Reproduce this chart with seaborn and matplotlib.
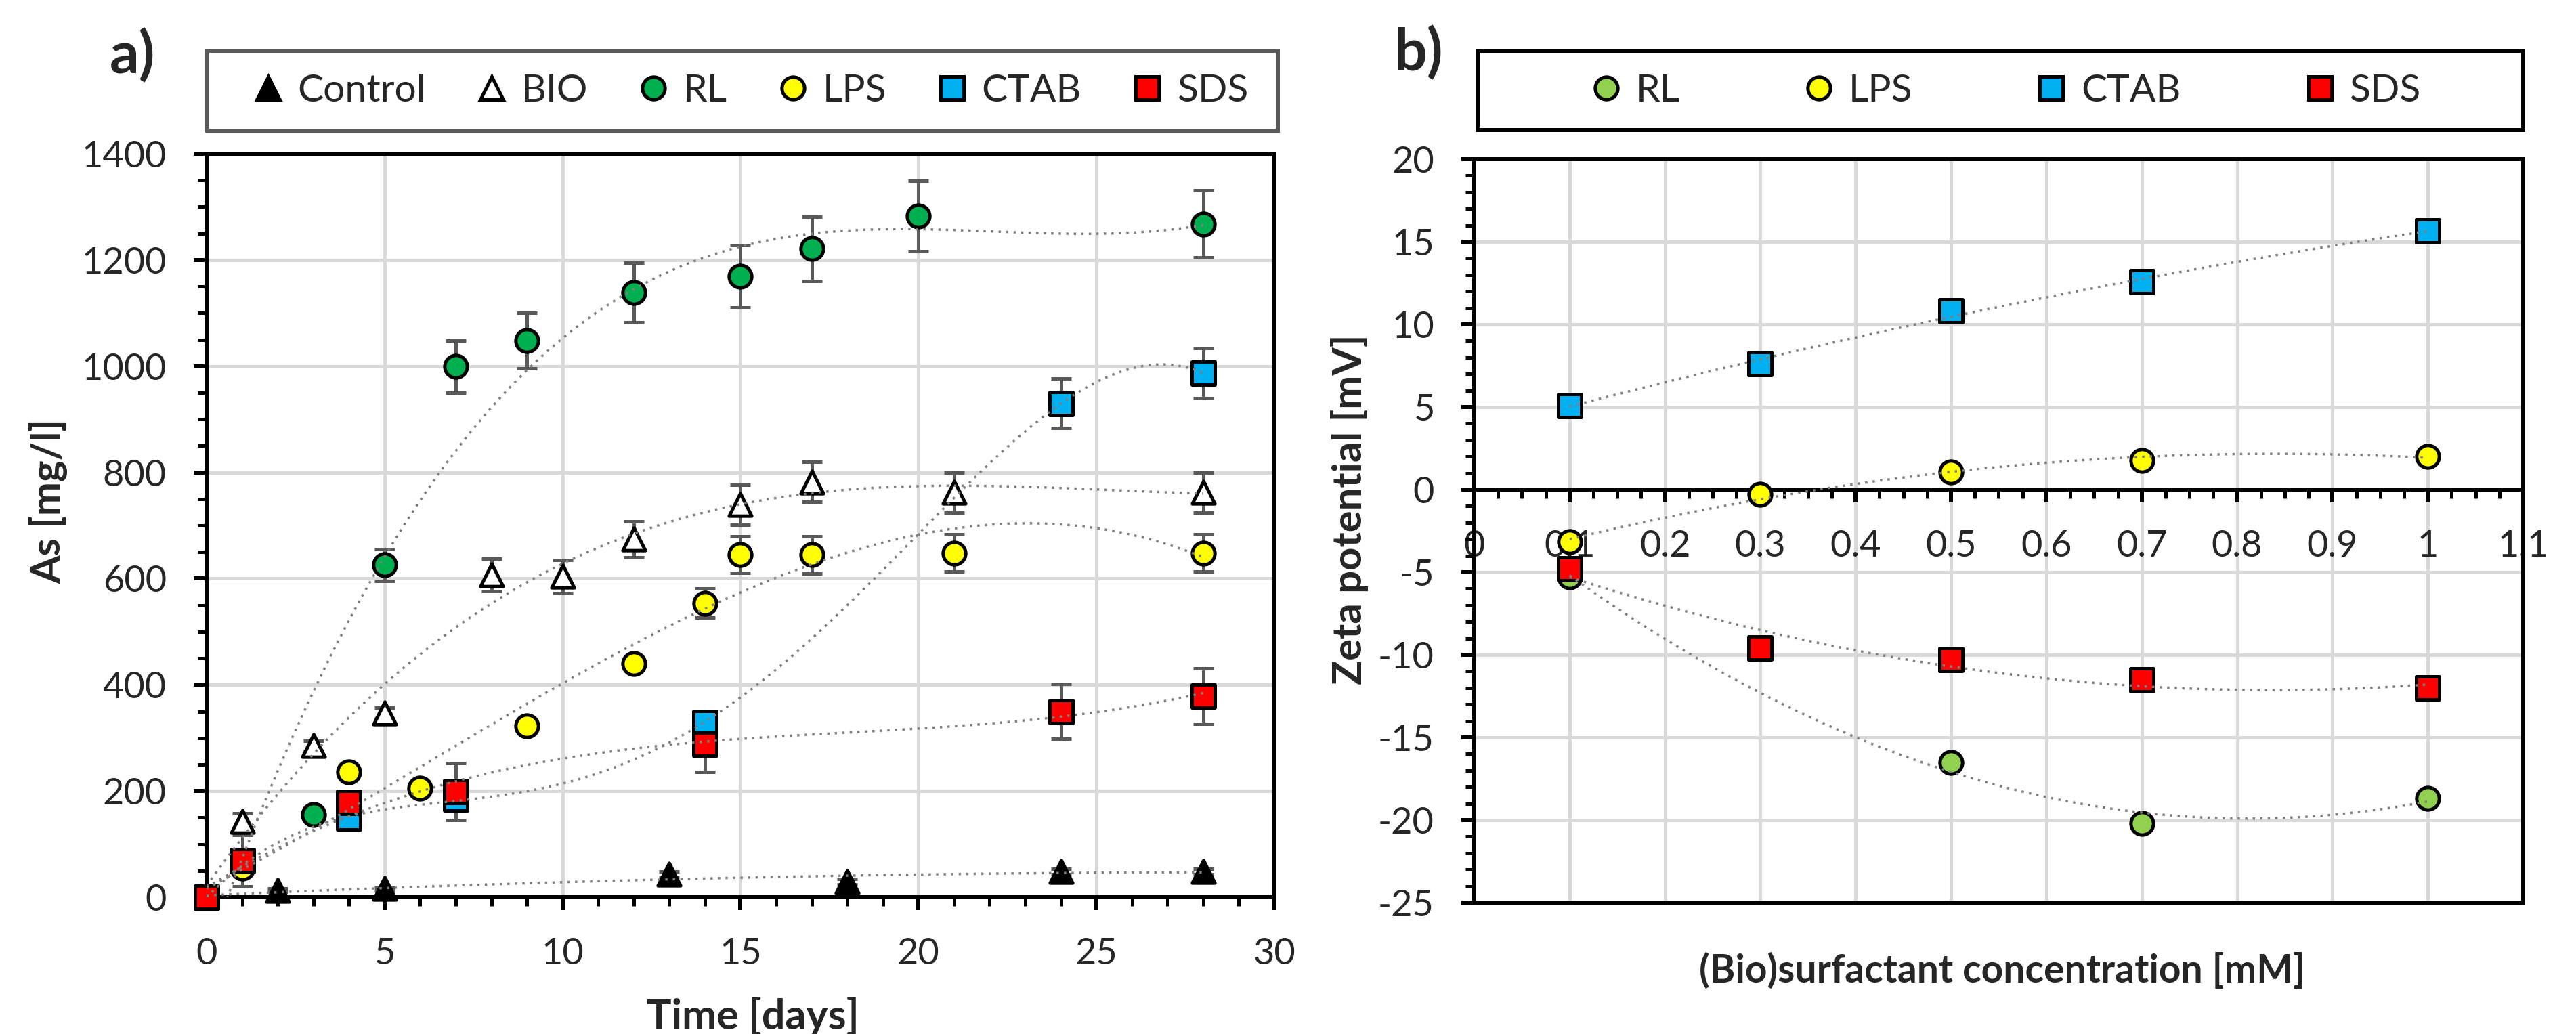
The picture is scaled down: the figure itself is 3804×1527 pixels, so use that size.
import numpy as np
import matplotlib
matplotlib.use("Agg")
import matplotlib.pyplot as plt
from matplotlib.lines import Line2D
from matplotlib.patches import Rectangle
from matplotlib.ticker import MultipleLocator, FuncFormatter
import seaborn as sns

# panel a) - As [mg/l] w czasie [dni]
control_days = [0, 2, 5, 13, 18, 24, 28]
control_as = [0, 13, 16, 43, 29, 48, 48]
control_err = [0, 3, 3, 5, 5, 5, 5]

bio_days = [0, 1, 3, 5, 8, 10, 12, 15, 17, 21, 28]
bio_as = [0, 143, 285, 347, 607, 604, 674, 739, 782, 762, 762]
bio_err = [0, 15, 10, 10, 31, 31, 34, 38, 38, 38, 38]

rl_days = [0, 1, 3, 5, 7, 9, 12, 15, 17, 20, 28]
rl_as = [0, 60, 155, 626, 999, 1048, 1139, 1169, 1221, 1283, 1268]
rl_err = [0, 5, 10, 30, 49, 52, 56, 59, 61, 66, 63]

lps_days = [0, 1, 4, 6, 9, 12, 14, 15, 17, 21, 28]
lps_as = [0, 55, 236, 205, 322, 440, 554, 645, 645, 648, 648]
lps_err = [0, 5, 8, 8, 8, 10, 28, 34, 35, 35, 35]

ctab_days = [0, 4, 7, 14, 24, 28]
ctab_as = [0, 149, 185, 329, 930, 987]
ctab_err = [0, 8, 10, 20, 47, 47]

sds_days = [0, 1, 4, 7, 14, 24, 28]
sds_as = [0, 69, 179, 199, 288, 350, 379]
sds_err = [0, 48, 15, 54, 52, 52, 52]

# panel b) - potencjal zeta vs stezenie [mM]
conc = [0.1, 0.3, 0.5, 0.7, 1.0]
rl_conc = [0.1, 0.5, 0.7, 1.0]
rl_zeta = [-5.3, -16.5, -20.2, -18.7]
lps_zeta = [-3.15, -0.3, 1.07, 1.76, 2.01]
ctab_zeta = [5.1, 7.62, 10.8, 12.57, 15.67]
sds_zeta = [-4.8, -9.6, -10.3, -11.5, -12.0]

legend_a = ['Control', 'BIO', 'RL', 'LPS', 'CTAB', 'SDS']
legend_b = ['RL', 'LPS', 'CTAB', 'SDS']

# kolory markerow (jak w Excelu)
COLORS = {
    'Control': 'black',
    'BIO': 'white',
    'RL_a': '#00B050',
    'RL_b': '#92D050',
    'LPS': '#FFFF00',
    'CTAB': '#00B0F0',
    'SDS': '#FF0000',
}

MS = 24       # rozmiar markera [pt]
MEW = 3.6     # obwodka markera
SPINE_LW = 4.3
TREND = dict(lw=2.5, linestyle=(0, (1, 2.2)), zorder=4)

sns.set_style("white")
plt.rcParams['font.family'] = ['Lato', 'DejaVu Sans']
plt.rcParams['axes.unicode_minus'] = False


def draw_series(ax, x, y, err, marker, face, order):
    # slupki bledow pod markerami
    if err is not None:
        ax.errorbar(x, y, yerr=err, fmt='none', ecolor='#595959', elinewidth=3.6,
                    capsize=11, capthick=3.6, zorder=2, clip_on=False)
    sns.scatterplot(x=x, y=y, marker=marker, s=MS ** 2, color=face, edgecolor='black',
                    linewidth=MEW, zorder=3, clip_on=False, legend=False, ax=ax)
    # wielomianowa linia trendu (jak trendline w Excelu)
    sns.regplot(x=np.array(x, dtype=float), y=np.array(y, dtype=float), order=order,
                ci=None, scatter=False, truncate=True, color='#7F7F7F',
                line_kws=TREND, ax=ax)


def style_axes(ax):
    for sp in ax.spines.values():
        sp.set_linewidth(SPINE_LW)
        sp.set_color('black')
        sp.set_visible(True)
    ax.grid(True, which='major', color='#D9D9D9', linewidth=3.6)
    ax.set_axisbelow(True)
    ax.tick_params(which='major', direction='out', length=13.5, width=SPINE_LW,
                   labelsize=39, pad=29, color='black', top=False, right=False,
                   bottom=True, left=True)
    ax.tick_params(which='minor', direction='out', length=9.5, width=3.6,
                   color='black', top=False, right=False, bottom=True, left=True)


def marker_handle(marker, face):
    return Line2D([], [], linestyle='none', marker=marker, markersize=MS,
                  markerfacecolor=face, markeredgecolor='black', markeredgewidth=MEW)


fig = plt.figure(figsize=(38.05, 15.27), dpi=100)
ax_a = fig.add_axes([305 / 3805, 1 - 1325 / 1527, 1577 / 3805, 1098 / 1527])
ax_b = fig.add_axes([2177 / 3805, 1 - 1333 / 1527, 1549 / 3805, 1098 / 1527])

# ---------- panel a ----------
draw_series(ax_a, control_days, control_as, control_err, '^', COLORS['Control'], 2)
draw_series(ax_a, bio_days, bio_as, bio_err, '^', COLORS['BIO'], 3)
draw_series(ax_a, rl_days, rl_as, rl_err, 'o', COLORS['RL_a'], 3)
draw_series(ax_a, lps_days, lps_as, lps_err, 'o', COLORS['LPS'], 3)
draw_series(ax_a, ctab_days, ctab_as, ctab_err, 's', COLORS['CTAB'], 4)
draw_series(ax_a, sds_days, sds_as, sds_err, 's', COLORS['SDS'], 3)

style_axes(ax_a)
ax_a.set_xlim(0, 30)
ax_a.set_ylim(0, 1400)
ax_a.xaxis.set_major_locator(MultipleLocator(5))
ax_a.xaxis.set_minor_locator(MultipleLocator(1))
ax_a.yaxis.set_major_locator(MultipleLocator(200))
ax_a.yaxis.set_minor_locator(MultipleLocator(50))
ax_a.set_xlabel('Time [days]', fontsize=44, fontweight='bold', va='top')
ax_a.xaxis.set_label_coords((1112 - 305) / 1577, (1325 - 1472) / 1098)
ax_a.set_ylabel('As [mg/l]', fontsize=43, fontweight='bold', va='center')
ax_a.yaxis.set_label_coords((72 - 305) / 1577, (1325 - 740) / 1098)

# ---------- panel b ----------
draw_series(ax_b, rl_conc, rl_zeta, None, 'o', COLORS['RL_b'], 2)
draw_series(ax_b, conc, lps_zeta, None, 'o', COLORS['LPS'], 2)
draw_series(ax_b, conc, ctab_zeta, None, 's', COLORS['CTAB'], 2)
draw_series(ax_b, conc, sds_zeta, None, 's', COLORS['SDS'], 2)

style_axes(ax_b)
ax_b.set_xlim(0, 1.1)
ax_b.set_ylim(-25, 20)
ax_b.spines['bottom'].set_position(('data', 0))
ax_b.axhline(-25, color='black', lw=SPINE_LW, clip_on=False, zorder=2.5)
ax_b.xaxis.set_major_locator(MultipleLocator(0.1))
ax_b.xaxis.set_minor_locator(MultipleLocator(0.025))
ax_b.yaxis.set_major_locator(MultipleLocator(5))
ax_b.yaxis.set_minor_locator(MultipleLocator(1))
fmt = FuncFormatter(lambda v, _: f'{round(v, 6):g}')
ax_b.xaxis.set_major_formatter(fmt)
ax_b.yaxis.set_major_formatter(fmt)
ax_b.set_xlabel('(Bio)surfactant concentration [mM]', fontsize=41, fontweight='bold',
                va='center')
ax_b.xaxis.set_label_coords((2957 - 2177) / 1549, (1333 - 1434) / 1098)
ax_b.set_ylabel('Zeta potential [mV]', fontsize=43, fontweight='bold', va='center')
ax_b.yaxis.set_label_coords((1993 - 2177) / 1549, (1333 - 752) / 1098)

# ---------- legendy w ramkach nad wykresami ----------
handles_a = [marker_handle('^', 'black'), marker_handle('^', 'white'),
             marker_handle('o', COLORS['RL_a']), marker_handle('o', COLORS['LPS']),
             marker_handle('s', COLORS['CTAB']), marker_handle('s', COLORS['SDS'])]
handles_b = [marker_handle('o', COLORS['RL_b']), marker_handle('o', COLORS['LPS']),
             marker_handle('s', COLORS['CTAB']), marker_handle('s', COLORS['SDS'])]

fig.add_artist(Rectangle((306 / 3805, 1 - 193 / 1527), 1581 / 3805, 118 / 1527,
                         transform=fig.transFigure, fill=False,
                         edgecolor='#595959', lw=SPINE_LW))
fig.add_artist(Rectangle((2182 / 3805, 1 - 192 / 1527), 1544 / 3805, 117 / 1527,
                         transform=fig.transFigure, fill=False,
                         edgecolor='black', lw=SPINE_LW))

fig.legend(handles_a, legend_a, loc='center', bbox_to_anchor=(1108 / 3805, 1 - 134 / 1527),
           bbox_transform=fig.transFigure, ncol=6, frameon=False, fontsize=41,
           handlelength=0.8, handletextpad=0.37, columnspacing=1.3, borderpad=0)
fig.legend(handles_b, legend_b, loc='center', bbox_to_anchor=(2962 / 3805, 1 - 134 / 1527),
           bbox_transform=fig.transFigure, ncol=4, frameon=False, fontsize=41,
           handlelength=0.8, handletextpad=0.37, columnspacing=3.2, borderpad=0)

# oznaczenia paneli
fig.text(196 / 3805, 1 - 83 / 1527, 'a)', fontsize=62, fontweight='bold',
         ha='center', va='center')
fig.text(2095 / 3805, 1 - 79 / 1527, 'b)', fontsize=62, fontweight='bold',
         ha='center', va='center')

fig.savefig('out.png', dpi=100)
